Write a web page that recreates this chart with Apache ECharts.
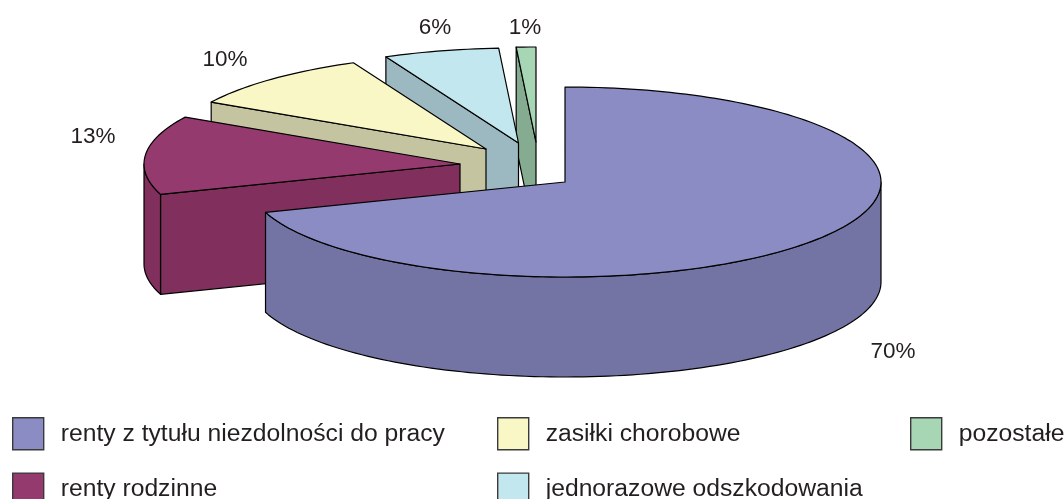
<!DOCTYPE html>
<html><head><meta charset="utf-8">
<style>html,body{margin:0;padding:0;background:#fff;overflow:hidden}#c{width:1064px;height:499px}</style>
<script src="https://cdn.jsdelivr.net/npm/echarts@6/dist/echarts.min.js"></script>
</head><body><div id="c"></div>
<script>
const categories = ['renty z tytułu niezdolności do pracy','renty rodzinne','zasiłki chorobowe','jednorazowe odszkodowania','pozostałe'];
const shares = [69.9,13.4,9.9,5.9,1.0];
const topColors = ['#8b8cc3','#953a6e','#f9f7c6','#c2e7ef','#a7d6b4'];
const wallColors = ['#7374a3','#812f5c','#c4c4a0','#9cb9c2','#85ab90'];
const apexes = [[565,182],[460,164],[486,149],[518.5,143],[536,142]];
const labelSpots = [[893,352],[93,137],[225,60],[435,28],[525,28]];
const RX = 316, RY = 95, DEPTH = 100;
const INK = '#231f20', FONT = '22.5px "Liberation Sans", Arial, sans-serif';

const total = shares.reduce((a,b)=>a+b,0);
const starts = []; let acc = 0;
shares.forEach(v=>{starts.push(acc); acc += v/total*360;});

function pt(i,deg){const r=deg*Math.PI/180;return [apexes[i][0]+RX*Math.sin(r),apexes[i][1]-RY*Math.cos(r)];}
function arc(i,a,b){const p=[];const n=Math.max(2,Math.ceil((b-a)/1.5));for(let k=0;k<=n;k++)p.push(pt(i,a+(b-a)*k/n));return p;}
const down=p=>[p[0],p[1]+DEPTH];
const poly=(points,fill)=>({type:'polygon',shape:{points},style:{fill,stroke:'#000',lineWidth:1.2,lineJoin:'round'},silent:true});

function renderSlice(i){
  return function(params,api){
    const a=starts[i], b=a+api.value(0)/total*360, kids=[];
    const ap=apexes[i];
    // radial wall facing the viewer on the start side
    if(a>180){const s=pt(i,a);kids.push(poly([ap,s,down(s),down(ap)],wallColors[i]));}
    // outer rim on the front half
    const fa=Math.max(a,90), fb=Math.min(b,270);
    if(fb>fa){const r=arc(i,fa,fb);kids.push(poly(r.concat(r.map(down).reverse()),wallColors[i]));}
    // top face
    kids.push(poly([ap].concat(arc(i,a,b)),topColors[i]));
    kids.push({type:'text',silent:true,x:labelSpots[i][0],y:labelSpots[i][1],
      style:{text:Math.round(api.value(0))+'%',fill:INK,font:FONT,align:'center',verticalAlign:'middle'}});
    return {type:'group',children:kids};
  };
}
// back-to-front painting order
const order=[4,3,2,1,0];
const series=order.map(i=>({type:'custom',name:categories[i],coordinateSystem:'none',silent:true,
  itemStyle:{color:topColors[i]},data:[[shares[i]]],renderItem:renderSlice(i),clip:false,animation:false}));
const legendBase={orient:'vertical',height:110,width:560,itemWidth:31,itemHeight:32,itemGap:22,padding:0,selectedMode:false,
  icon:'rect',itemStyle:{borderColor:'#3a3a3a',borderWidth:1.4},
  textStyle:{color:INK,fontFamily:'"Liberation Sans", Arial, sans-serif',fontSize:24.7,padding:[5,0,0,12]}};
const chart=echarts.init(document.getElementById('c'),null,{renderer:'canvas'});
chart.setOption({animation:false,backgroundColor:'#fff',series,
  legend:[
    Object.assign({},legendBase,{left:12,top:417,data:[categories[0],categories[1]]}),
    Object.assign({},legendBase,{left:497,top:417,data:[categories[2],categories[3]]}),
    Object.assign({},legendBase,{left:910,top:417,data:[categories[4]]})
  ]});
</script></body></html>
